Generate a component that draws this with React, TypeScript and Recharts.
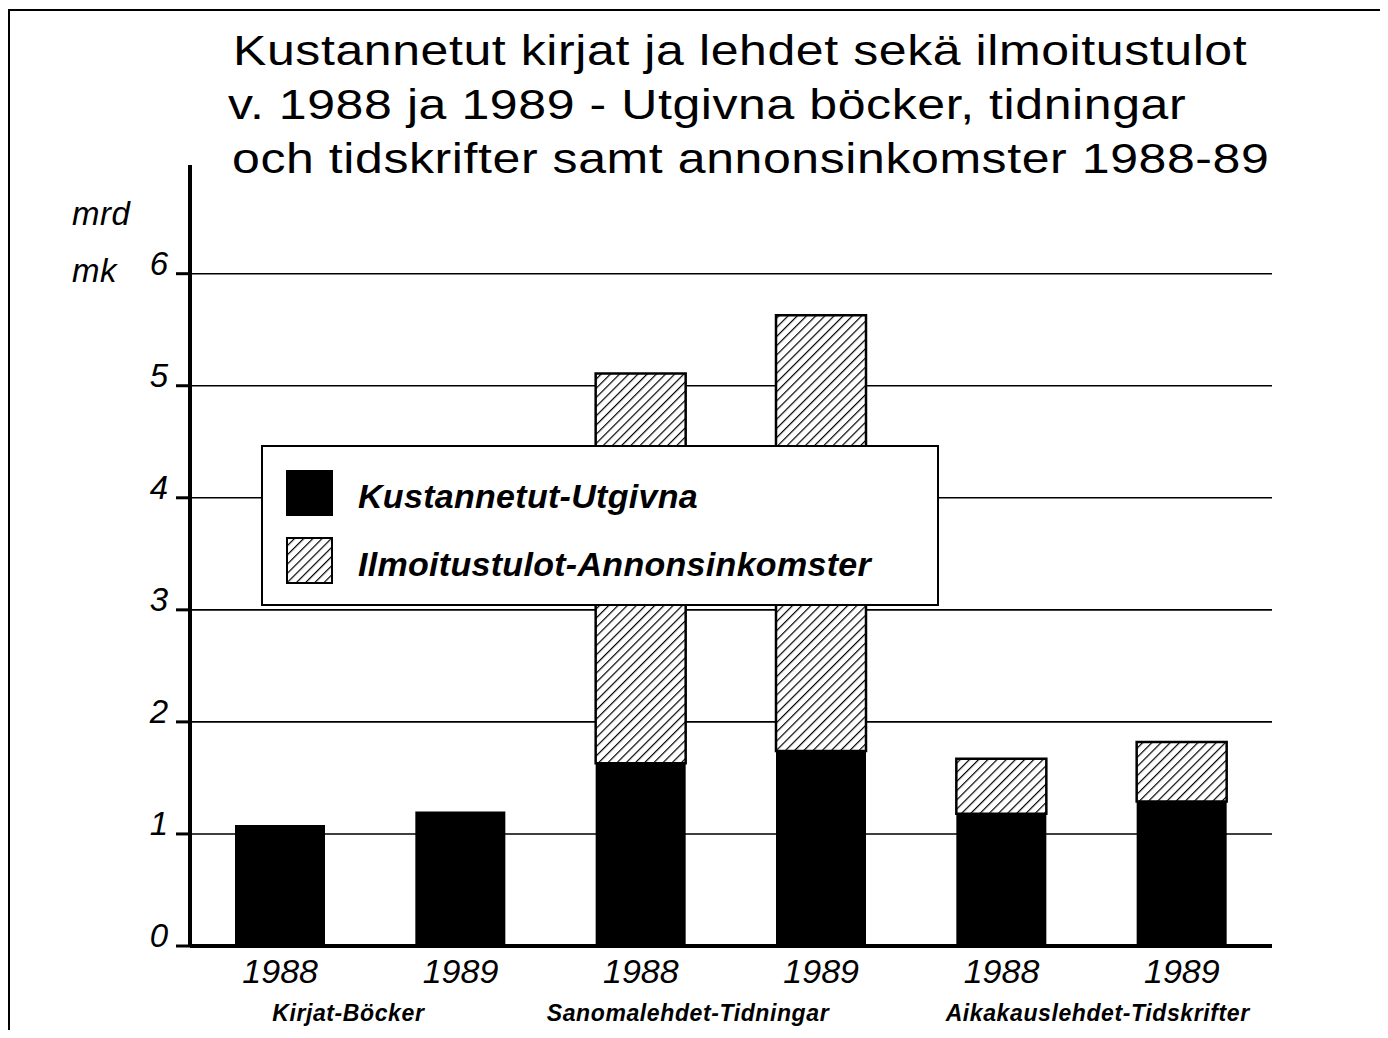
import { BarChart, Bar, XAxis, YAxis, CartesianGrid, Legend } from "recharts"

// publication type groups and years
const groups = ["Kirjat-Böcker", "Sanomalehdet-Tidningar", "Aikakauslehdet-Tidskrifter"]
const years = ["1988", "1989", "1988", "1989", "1988", "1989"]

// mrd mk
const published = [1.08, 1.2, 1.63, 1.74, 1.18, 1.29]
const adIncome = [0, 0, 3.48, 3.89, 0.49, 0.53]

const yTicks = [0, 1, 2, 3, 4, 5, 6]

const titleLines = [
  "Kustannetut kirjat ja lehdet sekä ilmoitustulot",
  "v. 1988 ja 1989 - Utgivna böcker, tidningar",
  "och tidskrifter samt annonsinkomster 1988-89",
]

const seriesNames = ["Kustannetut-Utgivna", "Ilmoitustulot-Annonsinkomster"]

const data = years.map((y, i) => ({
  key: `${i}`,
  year: y,
  group: groups[Math.floor(i / 2)],
  published: published[i],
  ads: adIncome[i],
}))

const FONT = "'Liberation Sans', Arial, Helvetica, sans-serif"
const W = 1388
const H = 1038
const M = { top: 165, right: 116, bottom: 14, left: 118 }
const Y_W = 72
const BAND = (W - M.left - Y_W - M.right) / years.length
// group labels sit a little off the pair centre in the original
const groupShift = [-22, -43, 6]

const YearTick = (props: any) => {
  const { x, y, payload, index } = props
  const d = data[index]
  return (
    <g>
      <text x={x} y={y + 29} textAnchor="middle" fontFamily={FONT} fontStyle="italic" fontSize={34} fill="#000">
        {d ? d.year : payload.value}
      </text>
      {index % 2 === 0 && (
        <text
          x={x + BAND / 2 + groupShift[index / 2]}
          y={y + 67}
          textAnchor="middle"
          fontFamily={FONT}
          fontStyle="italic"
          fontWeight="bold"
          fontSize={23}
          letterSpacing={0.6}
          fill="#000"
        >
          {d.group}
        </text>
      )}
    </g>
  )
}

const ValueTick = (props: any) => {
  const { x, y, payload } = props
  return (
    <text x={x - 6} y={y + 1} textAnchor="end" fontFamily={FONT} fontStyle="italic" fontSize={33} fill="#000">
      {payload.value}
    </text>
  )
}

const Hatch = ({ size }: { size: number }) => (
  <svg width={size} height={size} style={{ display: "block" }}>
    <defs>
      <pattern id="hatchLegend" width="6.5" height="6.5" patternUnits="userSpaceOnUse" patternTransform="rotate(45)">
        <line x1="0" y1="0" x2="0" y2="6.5" stroke="#000" strokeWidth="2.4" />
      </pattern>
    </defs>
    <rect x={1} y={1} width={size - 2} height={size - 2} fill="url(#hatchLegend)" stroke="#000" strokeWidth={2} />
  </svg>
)

const LegendBox = () => (
  <div
    style={{
      width: 678,
      height: 161,
      background: "#fff",
      border: "2px solid #000",
      boxSizing: "border-box",
      fontFamily: FONT,
      fontStyle: "italic",
      fontWeight: "bold",
      fontSize: 34,
      letterSpacing: 0.3,
      position: "relative",
    }}
  >
    <div style={{ position: "absolute", left: 23, top: 23, width: 47, height: 46, background: "#000" }} />
    <div style={{ position: "absolute", left: 95, top: 31, lineHeight: "36px", whiteSpace: "nowrap" }}>{seriesNames[0]}</div>
    <div style={{ position: "absolute", left: 23, top: 90 }}>
      <Hatch size={47} />
    </div>
    <div style={{ position: "absolute", left: 95, top: 99, lineHeight: "36px", whiteSpace: "nowrap" }}>{seriesNames[1]}</div>
  </div>
)

export default function App() {
  return (
    <div style={{ position: "relative", width: W - 16, height: H - 16 }}>
      {/* frame */}
      <div
        style={{
          position: "absolute",
          left: 0,
          top: 1,
          width: 1376,
          height: 1100,
          borderTop: "2px solid #000",
          borderLeft: "2px solid #000",
          borderRight: "2px solid #000",
          boxSizing: "border-box",
        }}
      />
      <div style={{ position: "absolute", left: -8, top: -8, width: W, height: H, overflow: "hidden" }}>
        <BarChart width={W} height={H} data={data} margin={M} barCategoryGap={0}>
          <defs>
            <pattern id="hatch" width="6.5" height="6.5" patternUnits="userSpaceOnUse" patternTransform="rotate(45)">
              <rect width="6.5" height="6.5" fill="#fff" />
              <line x1="0" y1="0" x2="0" y2="6.5" stroke="#000" strokeWidth="2.4" />
            </pattern>
          </defs>
          <CartesianGrid vertical={false} stroke="#000" strokeWidth={1.6} horizontalValues={[1, 2, 3, 4, 5, 6]} />
          <XAxis
            dataKey="key"
            interval={0}
            tick={<YearTick />}
            tickLine={false}
            axisLine={{ stroke: "#000", strokeWidth: 4 }}
            height={78}
          />
          <YAxis
            width={Y_W}
            domain={[0, 6.97]}
            ticks={yTicks}
            tick={<ValueTick />}
            tickSize={14}
            tickLine={{ stroke: "#000", strokeWidth: 3 }}
            axisLine={{ stroke: "#000", strokeWidth: 4 }}
            allowDataOverflow
          />
          <Legend
            verticalAlign="middle"
            align="center"
            wrapperStyle={{ position: "absolute", left: 261, top: 445, width: 680, height: 161 }}
            content={() => <LegendBox />}
          />
          <Bar dataKey="published" stackId="a" fill="#000" barSize={90} isAnimationActive={false} />
          <Bar
            dataKey="ads"
            stackId="a"
            fill="url(#hatch)"
            stroke="#000"
            strokeWidth={2.5}
            barSize={90}
            isAnimationActive={false}
          />
        </BarChart>
        {titleLines.map((t, i) => (
          <div
            key={i}
            style={{
              position: "absolute",
              left: [233, 228, 232][i],
              top: 25 + i * 54,
              fontFamily: FONT,
              fontSize: 42,
              letterSpacing: 0.5,
              lineHeight: "52px",
              whiteSpace: "nowrap",
              color: "#000",
              transform: "scaleX(1.19)",
              transformOrigin: "left center",
            }}
          >
            {t}
          </div>
        ))}
        <div style={{ position: "absolute", left: 72, top: 195, fontFamily: FONT, fontStyle: "italic", fontSize: 33, letterSpacing: 0.5 }}>mrd</div>
        <div style={{ position: "absolute", left: 72, top: 252, fontFamily: FONT, fontStyle: "italic", fontSize: 33, letterSpacing: 0.5 }}>mk</div>
      </div>
    </div>
  )
}
